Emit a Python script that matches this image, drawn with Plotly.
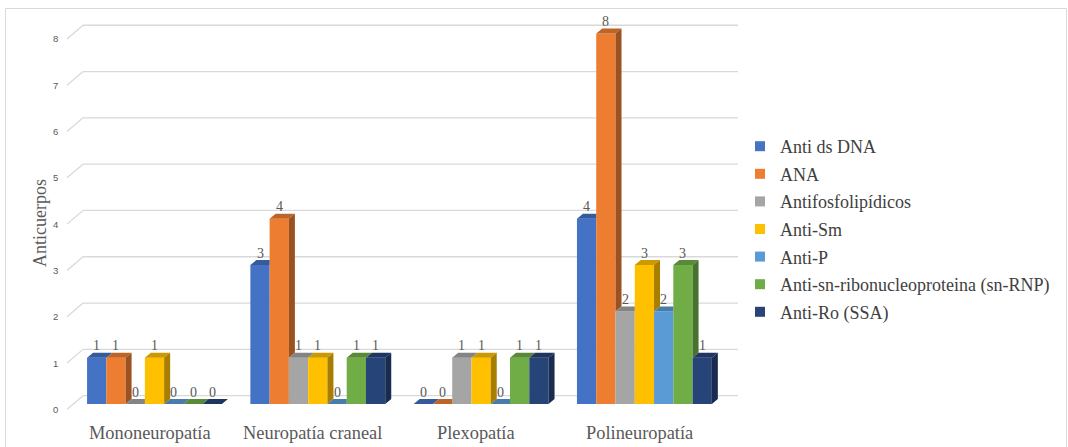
import plotly.graph_objects as go

# ---- data -------------------------------------------------------------
categories = ["Mononeuropatía", "Neuropatía craneal", "Plexopatía", "Polineuropatía"]
series_names = [
    "Anti ds DNA",
    "ANA",
    "Antifosfolipídicos",
    "Anti-Sm",
    "Anti-P",
    "Anti-sn-ribonucleoproteina (sn-RNP)",
    "Anti-Ro (SSA)",
]
anti_ds_dna = [1, 3, 0, 4]
ana = [1, 4, 0, 8]
antifosfolipidicos = [0, 1, 1, 2]
anti_sm = [1, 1, 1, 3]
anti_p = [0, 0, 0, 2]
anti_sn_rnp = [0, 1, 1, 3]
anti_ro = [0, 1, 1, 1]
y_ticks = [0, 1, 2, 3, 4, 5, 6, 7, 8]

series_values = [anti_ds_dna, ana, antifosfolipidicos, anti_sm, anti_p, anti_sn_rnp, anti_ro]
colors = ["#4472C4", "#ED7D31", "#A5A5A5", "#FFC000", "#5B9BD5", "#70AD47", "#264478"]

# ---- styling / geometry (axis units) ---------------------------------
BAR_W = 0.118          # width of one bar, in category units
DEPTH_X = 0.0367       # 3-D depth offset, horizontal
DEPTH_Y = 0.108        # 3-D depth offset, vertical
WALL_DY = 0.18         # back-wall gridline lift
X_RANGE = [-0.5787, 3.616]
Y_RANGE = [-0.2376, 8.4017]
GRID_X0, GRID_X1, CONN_X0 = -0.4378, 3.573, -0.5358
SERIF = "Liberation Serif, Times New Roman, serif"
GREY = "#595959"


def shade(hex_color, k):
    r, g, b = (int(hex_color[i:i + 2], 16) for i in (1, 3, 5))
    return "#%02x%02x%02x" % (int(r * k), int(g * k), int(b * k))


fig = go.Figure()

n_series = len(series_values)
mid = (n_series - 1) / 2

# front faces of the bars
for i, (name, vals) in enumerate(zip(series_names, series_values)):
    xs = [c + (i - mid) * BAR_W for c in range(len(categories))]
    fig.add_trace(go.Bar(
        x=xs, y=vals, width=BAR_W, name=name,
        marker=dict(color=colors[i], line=dict(width=0)),
        showlegend=False, hoverinfo="skip",
    ))

# top and side faces giving the bars their depth
for i, vals in enumerate(series_values):
    top_x, top_y, side_x, side_y = [], [], [], []
    for c, v in enumerate(vals):
        x0 = c + (i - mid) * BAR_W - BAR_W / 2
        x1 = x0 + BAR_W
        nxt = series_values[i + 1][c] if i + 1 < n_series else None
        if nxt is not None and nxt > v:
            px = [x0, x1, x1, x0 + DEPTH_X, x0]
            py = [v, v, v + DEPTH_Y, v + DEPTH_Y, v]
        else:
            px = [x0, x1, x1 + DEPTH_X, x0 + DEPTH_X, x0]
            py = [v, v, v + DEPTH_Y, v + DEPTH_Y, v]
        top_x += px + [None]
        top_y += py + [None]
        lo = nxt if nxt is not None else 0
        if v > lo:
            side_x += [x1, x1, x1 + DEPTH_X, x1 + DEPTH_X, x1, None]
            side_y += [lo, v, v + DEPTH_Y, lo + DEPTH_Y, lo, None]
    fig.add_trace(go.Scatter(
        x=top_x, y=top_y, mode="none", fill="toself",
        fillcolor=shade(colors[i], 0.8), showlegend=False, hoverinfo="skip",
    ))
    if side_x:
        fig.add_trace(go.Scatter(
            x=side_x, y=side_y, mode="none", fill="toself",
            fillcolor=shade(colors[i], 0.66), showlegend=False, hoverinfo="skip",
        ))

# legend entries
for i, name in enumerate(series_names):
    fig.add_trace(go.Scatter(
        x=[None], y=[None], mode="markers", name=name, legendgroup=name,
        marker=dict(symbol="square", size=10, color=colors[i]),
    ))

annotations = []
# value labels
for i, vals in enumerate(series_values):
    for c, v in enumerate(vals):
        annotations.append(dict(
            x=c + (i - mid) * BAR_W, y=v, xref="x", yref="y",
            text=str(v), showarrow=False, yanchor="middle", yshift=12,
            font=dict(family=SERIF, size=14, color=GREY),
        ))

# category labels
for c, name in enumerate(categories):
    annotations.append(dict(
        x=c, y=-0.045, xref="x", yref="paper", text=name, showarrow=False,
        xshift=-5, yanchor="middle",
        font=dict(family=SERIF, size=18.4, color=GREY),
    ))

# value axis labels
for t in y_ticks:
    annotations.append(dict(
        x=-0.00584, y=t - 0.115, xref="paper", yref="y", text=str(t), showarrow=False,
        xanchor="center", yanchor="middle",
        font=dict(family="Liberation Sans", size=9.5, color=GREY),
    ))

annotations.append(dict(
    x=-0.0292, y=3.909, xref="paper", yref="y", text="Anticuerpos",
    showarrow=False, textangle=-90, xanchor="center", yanchor="middle",
    font=dict(family=SERIF, size=18, color=GREY),
))

shapes = []
for t in y_ticks:
    shapes.append(dict(
        type="line", xref="x", yref="y", layer="below",
        x0=GRID_X0, x1=GRID_X1, y0=t + WALL_DY, y1=t + WALL_DY,
        line=dict(color="#d9d9d9", width=1.3),
    ))
    shapes.append(dict(
        type="line", xref="x", yref="y", layer="below",
        x0=CONN_X0, x1=GRID_X0, y0=t - 0.115, y1=t + WALL_DY,
        line=dict(color="#d9d9d9", width=1.3),
    ))

# chart outline
shapes.append(dict(
    type="rect", xref="paper", yref="paper",
    x0=-0.0796, x1=1.4693, y0=-0.1125, y1=1.01625,
    line=dict(color="#d9d9d9", width=1), layer="below",
))

fig.update_layout(
    width=1068, height=447,
    margin=dict(l=60, r=323, t=15, b=32),
    paper_bgcolor="white", plot_bgcolor="white",
    barmode="overlay",
    xaxis=dict(range=X_RANGE, visible=False, fixedrange=True),
    yaxis=dict(range=Y_RANGE, visible=False, fixedrange=True),
    annotations=annotations,
    shapes=shapes,
    legend=dict(
        x=0.99270, xanchor="left", y=0.7175, yanchor="top",
        font=dict(family=SERIF, size=18, color="#404040"),
        tracegroupgap=1.2, bgcolor="rgba(0,0,0,0)",
        itemclick=False, itemdoubleclick=False,
    ),
)

fig.write_html("out.html")
